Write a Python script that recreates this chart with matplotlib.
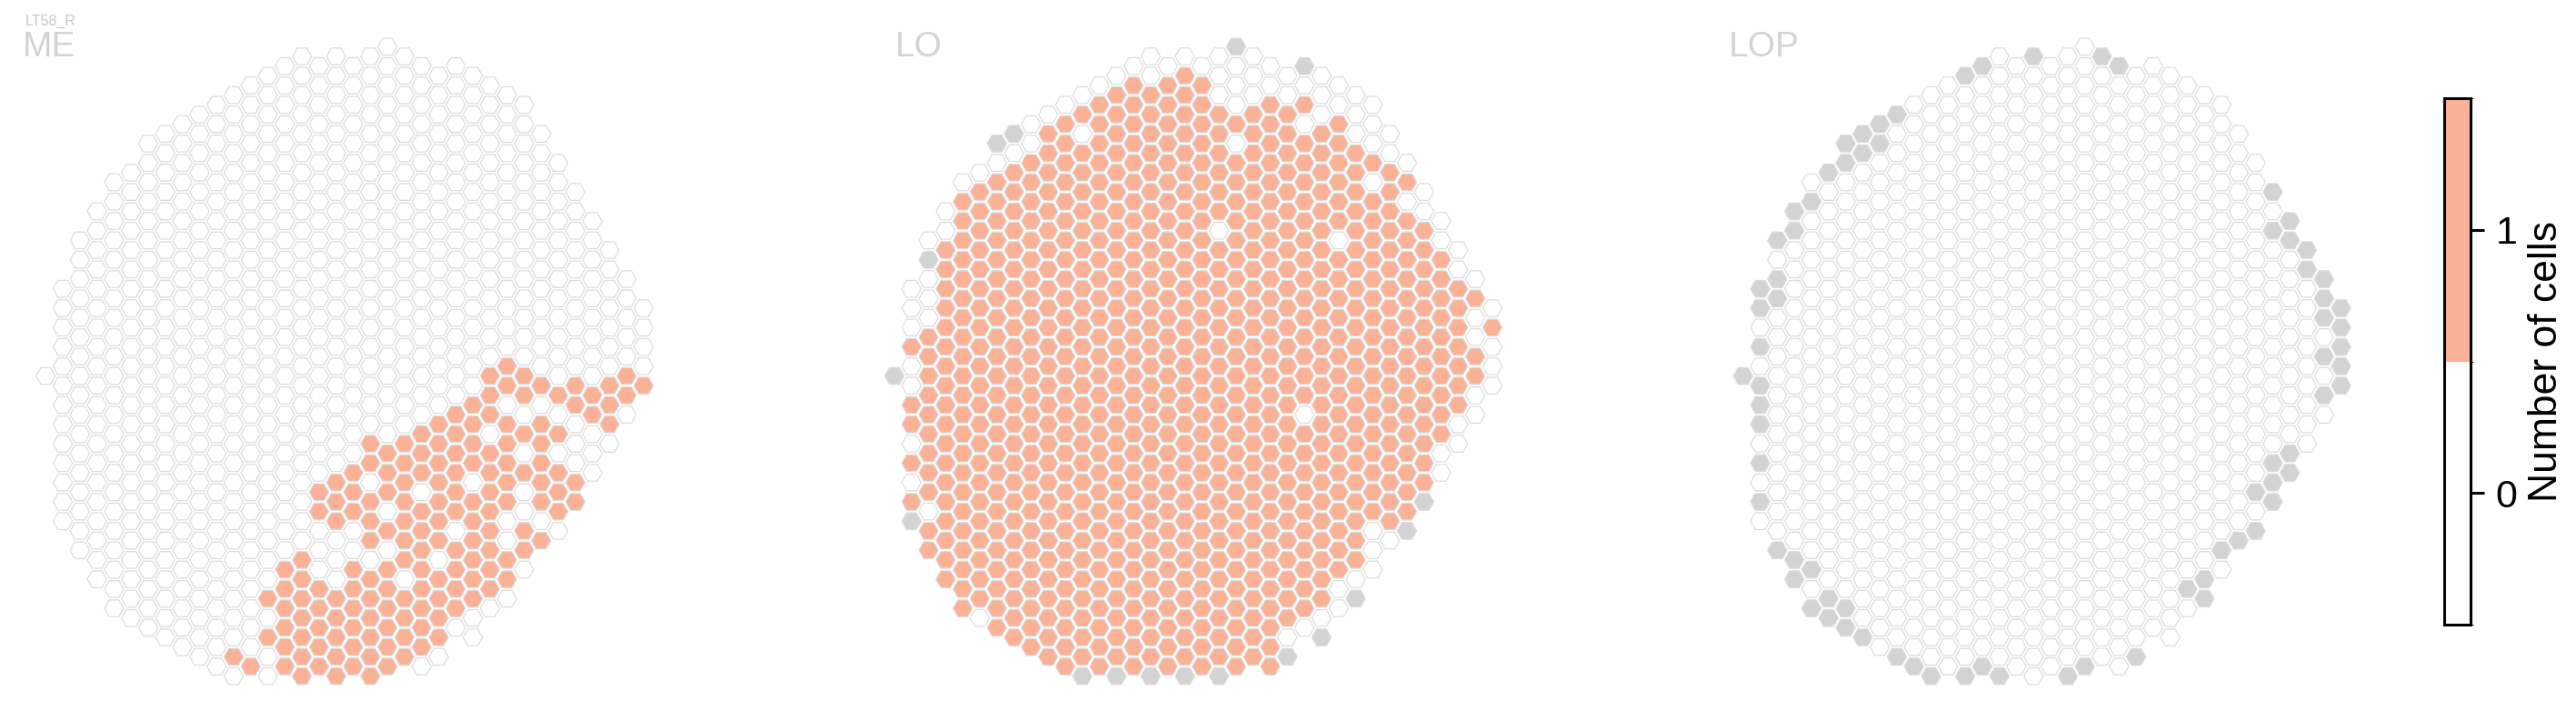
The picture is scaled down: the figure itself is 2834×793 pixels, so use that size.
import numpy as np
import matplotlib
matplotlib.use('Agg')
import matplotlib.pyplot as plt
from matplotlib.collections import PolyCollection
from matplotlib.colors import ListedColormap, BoundaryNorm
import matplotlib.cm as cm

plt.rcParams['font.family'] = ['Liberation Sans', 'DejaVu Sans']

# hex grid: column index c, half-row index k (k has the parity of c)
col_top = [0, -9, -14, -17, -20, -21, -24, -25, -26, -27, -28, -29, -30, -31, -32, -33, -32, -33,
           -32, -33, -34, -33, -32, -31, -32, -31, -30, -29, -28, -25, -22, -19, -16, -13, -10, -7]
col_bottom = [0, 15, 18, 21, 24, 25, 26, 27, 28, 29, 30, 31, 30, 31, 30, 31, 30, 31,
              30, 31, 30, 29, 30, 29, 26, 27, 24, 23, 20, 17, 16, 13, 10, 7, 4, 1]

# ME: columns with one cell, as (first k, last k) runs; everything else 0
me_segments = {
    11: [(29, 29)], 12: [(30, 30)], 13: [(23, 23), (27, 27)], 14: [(20, 30)], 15: [(19, 31)],
    16: [(12, 14), (22, 30)], 17: [(11, 15), (23, 31)], 18: [(10, 14), (20, 30)],
    19: [(7, 9), (13, 17), (21, 31)], 20: [(8, 30)], 21: [(7, 29)], 22: [(6, 28)], 23: [(5, 27)],
    24: [(4, 14), (18, 24)], 25: [(3, 23)], 26: [(0, 22)], 27: [(-1, 13), (19, 21)],
    28: [(0, 6), (10, 10), (16, 18)], 29: [(1, 1), (5, 13), (17, 17)], 30: [(2, 2), (6, 6), (10, 14)],
    31: [(1, 3), (11, 13)], 32: [(2, 4)], 33: [(1, 5)], 34: [(0, 2)], 35: [(1, 1)],
}
me_holes = [(20, 14), (22, 12), (26, 6), (27, 3), (28, 4), (21, 21), (20, 18), (23, 19), (25, 11)]

# LO: everything is 1 except these
lo_white = [(1, -9), (1, -7), (1, -5), (1, -1), (1, 1), (1, 7), (1, 11),
            (2, -14), (2, -10), (2, -8), (2, -6), (2, 14), (3, -17), (3, -15),
            (4, -20), (5, -21), (5, 25), (6, -22), (7, -23), (8, -26), (8, -24), (9, -27),
            (10, -28), (11, -29), (11, -25), (12, -30), (13, -31), (14, -32), (15, -33), (15, -31),
            (16, -32), (17, -33), (18, -32), (19, -33), (19, -31), (19, -29), (19, -15),
            (20, -32), (20, -30), (20, -28), (20, -24), (21, -33), (21, -31), (21, -29),
            (22, -32), (22, -30), (23, -31), (23, -29), (24, -30), (24, -26), (24, 4),
            (25, -31), (25, -29), (25, -27), (26, -30), (26, -28), (26, -14),
            (27, -29), (27, -27), (27, -25), (28, -28), (28, -26), (28, -24), (28, -20),
            (28, 16), (28, 18), (28, 20), (29, -25), (29, -23), (29, 17), (30, -22), (30, -18),
            (31, -19), (31, -17), (32, -16), (32, -14), (32, 8), (32, 10),
            (33, -13), (33, -11), (33, 5), (33, 7), (34, -10), (34, -6), (34, -4), (34, 2), (34, 4),
            (35, -7), (35, -3), (35, -1), (35, 1),
            (26, 22), (26, 24), (25, 25), (24, 26), (23, 27), (27, 21)]
lo_gray = [(0, 0), (1, 15), (2, -12), (6, -24), (7, -25), (20, -34), (24, -32),
           (11, 31), (13, 31), (15, 31), (17, 31), (19, 31), (23, 29), (25, 27), (27, 23),
           (30, 16), (31, 13)]

# LOP: everything is 0 except these (no data)
lop_gray = [(0, 0), (1, -9), (1, -7), (1, -3), (1, 1), (1, 3), (1, 5), (1, 9), (1, 13),
            (2, -14), (2, -10), (2, -8), (2, 18), (3, -17), (3, -15), (3, 19), (3, 21),
            (4, -18), (4, 20), (4, 24), (5, -21), (5, 23), (5, 25), (6, -24), (6, -22), (6, 24), (6, 26),
            (7, -25), (7, -23), (7, 27), (8, -26), (8, -24), (9, -27), (9, 29), (10, 30), (11, 31),
            (13, -31), (13, 31), (14, -32), (14, 30), (15, 31), (17, -33), (19, 31), (20, 30),
            (21, -33), (22, -32), (23, 29), (26, 22), (27, 21), (27, 23), (28, 18), (29, 17),
            (30, 12), (30, 16), (31, -19), (31, -15), (31, 9), (31, 11), (31, 13),
            (32, -16), (32, -14), (32, 8), (32, 10), (33, -13), (33, -11),
            (34, -10), (34, -8), (34, -6), (34, -2), (34, 2),
            (35, -7), (35, -5), (35, -3), (35, -1), (35, 1)]

neuropils = ['ME', 'LO', 'LOP']
cell_type = 'LT58_R'
cbar_ticks = [0, 1]
cbar_label = 'Number of cells'

SALMON = '#fbb195'
GRAY = '#d3d3d3'
EDGE = '#dcdcdc'
TITLE = '#d3d3d3'


def grid_cells():
    cells = []
    for c, (top, bot) in enumerate(zip(col_top, col_bottom)):
        for k in range(top, bot + 1, 2):
            cells.append((c, k))
    return cells


def me_values(cells):
    on = set()
    for c, runs in me_segments.items():
        for k0, k1 in runs:
            for k in range(k0, k1 + 1, 2):
                on.add((c, k))
    on -= set(me_holes)
    return [1 if cell in on else 0 for cell in cells]


def lo_values(cells):
    white, gray = set(lo_white), set(lo_gray)
    return [np.nan if cell in gray else (0 if cell in white else 1) for cell in cells]


def lop_values(cells):
    gray = set(lop_gray)
    return [np.nan if cell in gray else 0 for cell in cells]


def hexagon(c, k, r=0.85):
    x, y = 1.5 * c, -0.85 * k
    ang = np.deg2rad(np.arange(0, 360, 60))
    return np.column_stack([x + r * np.cos(ang), y + r * np.sin(ang)])


def draw_panel(ax, cells, values):
    verts = [hexagon(c, k) for c, k in cells]
    colors = [GRAY if np.isnan(v) else (SALMON if v >= 1 else 'white') for v in values]
    pc = PolyCollection(verts, facecolors=colors, edgecolors=EDGE, linewidths=0.9)
    ax.add_collection(pc)
    ax.set_xlim(-2, 55)
    ax.set_ylim(-29, 31)
    ax.axis('off')


W, H = 2834, 793
fig = plt.figure(figsize=(W / 100, H / 100), dpi=100)

cells = grid_cells()
panel_vals = [me_values(cells), lo_values(cells), lop_values(cells)]
first_col_px = [50.3, 984.0, 1917.7]
unit = 12.53
for vals, x0 in zip(panel_vals, first_col_px):
    left = x0 - 2 * unit
    bottom = H - (413.5 + 29 * unit)
    ax = fig.add_axes([left / W, bottom / H, 57 * unit / W, 60 * unit / H])
    draw_panel(ax, cells, vals)

title_x = [25, 985, 1902]
for name, tx in zip(neuropils, title_x):
    fig.text(tx / W, 1 - 62 / H, name, fontsize=28, color=TITLE, ha='left', va='baseline')
fig.text(28 / W, 1 - 28 / H, cell_type, fontsize=11.5, color='#c8c8c8', ha='left', va='baseline')

cax = fig.add_axes([2688.5 / W, 1 - 687 / H, 29.5 / W, 579 / H])
cmap = ListedColormap(['white', SALMON])
norm = BoundaryNorm([-0.5, 0.5, 1.5], cmap.N)
cb = fig.colorbar(cm.ScalarMappable(norm=norm, cmap=cmap), cax=cax, ticks=cbar_ticks)
cb.outline.set_linewidth(2.2)
cax.tick_params(length=11, width=2.2, labelsize=31, pad=9)
cb.set_label(cbar_label, fontsize=32, labelpad=8)

fig.savefig('out.png', dpi=100)
